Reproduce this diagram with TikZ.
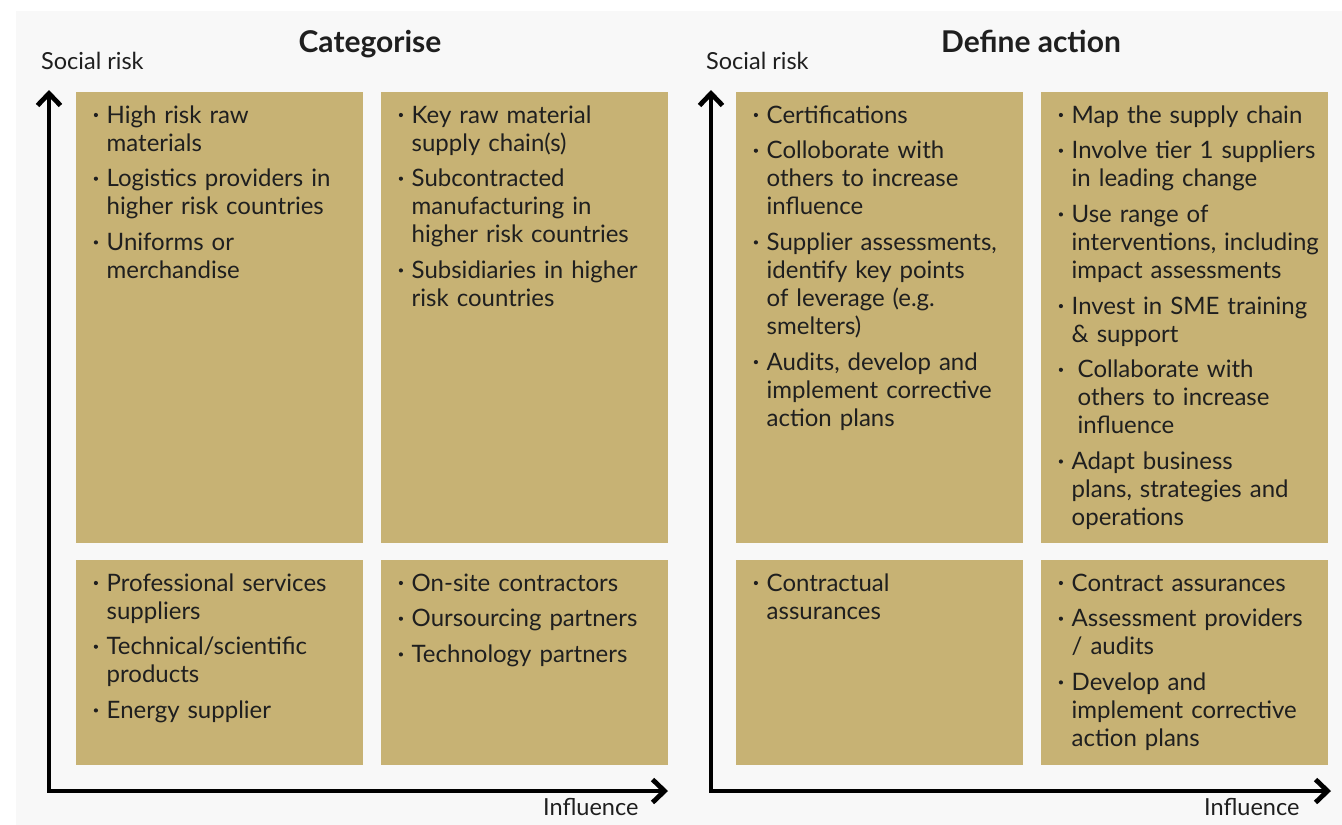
\documentclass[tikz,border=0pt]{standalone}
\usepackage{fontspec}
\setmainfont{Lato}
\usetikzlibrary{arrows.meta}
\definecolor{bgc}{HTML}{F8F8F8}
\definecolor{boxc}{HTML}{C7B274}
\definecolor{txtc}{HTML}{1F1F1F}
\newlength\itmw \setlength\itmw{30.5pt}
\newcommand\qbul{\hspace*{17.6pt}\raisebox{5.9pt}{\tikz\fill[txtc] (0,0) circle (2.1pt);}}
\newcommand\itm[2][0pt]{\noindent\hangindent=\dimexpr\itmw+#1\relax\hangafter=1 \makebox[\dimexpr\itmw+#1\relax][l]{\qbul}#2\par}
\tikzset{
  qbox/.style={fill=boxc, draw=none, inner sep=0pt, minimum width=287pt, anchor=north west},
  qtext/.style={anchor=base west, inner sep=0pt, text width=300pt, align=left, text=txtc,
    font=\fontsize{24}{28}\selectfont, execute at begin node={\setlength\parskip{7.7pt}}},
  axis/.style={line width=4.8pt, line join=miter,
    {Straight Barb[length=12pt,width=23pt]}-{Straight Barb[length=12pt,width=23pt]}},
  ttl/.style={anchor=base, inner sep=0pt, text=txtc, font=\fontsize{30}{34}\selectfont\bfseries},
  axlab/.style={anchor=base west, inner sep=0pt, text=txtc, font=\fontsize{23.5}{27}\selectfont}
}
\begin{document}
\begin{tikzpicture}[x=1pt,y=-1pt]
\useasboundingbox (0,0) rectangle (1342,825);
\fill[bgc] (16,11) rectangle (1342,825);

% titles and axis labels
\node[ttl] (tcat) at (370,52) {Categorise};
\node[ttl] (tdef) at (1031,52) {Define action};
\node[axlab] (srl) at (41,69) {Social risk};
\node[axlab] (srr) at (706,69) {Social risk};
\node[axlab] (infl) at (543,815) {Influence};
\node[axlab] (infr) at (1204,815) {Influence};

% boxes
\node[qbox, minimum height=451pt] (ltl) at (76,92) {};
\node[qbox, minimum height=451pt] (ltr) at (381,92) {};
\node[qbox, minimum height=205pt] (lbl) at (76,560) {};
\node[qbox, minimum height=205pt] (lbr) at (381,560) {};
\node[qbox, minimum height=451pt] (rtl) at (736,92) {};
\node[qbox, minimum height=451pt] (rtr) at (1041,92) {};
\node[qbox, minimum height=205pt] (rbl) at (736,560) {};
\node[qbox, minimum height=205pt] (rbr) at (1041,560) {};

% texts
\node[qtext] (xltl) at ([yshift=-31pt]ltl.north west) {%
\itm{High risk raw\newline materials}
\itm{Logistics providers in\newline higher risk countries}
\itm{Uniforms or\newline merchandise}};
\node[qtext] (xltr) at ([yshift=-31pt]ltr.north west) {%
\itm{Key raw material\newline supply chain(s)}
\itm{Subcontracted\newline manufacturing in\newline higher risk countries}
\itm{Subsidiaries in higher\newline risk countries}};
\node[qtext] (xlbl) at ([yshift=-31pt]lbl.north west) {%
\itm{Professional services\newline suppliers}
\itm{Technical/scientific\newline products}
\itm{Energy supplier}};
\node[qtext] (xlbr) at ([yshift=-31pt]lbr.north west) {%
\itm{On-site contractors}
\itm{Oursourcing partners}
\itm{Technology partners}};
\node[qtext] (xrtl) at ([yshift=-31pt]rtl.north west) {%
\itm{Certifications}
\itm{Colloborate with\newline others to increase\newline influence}
\itm{Supplier assessments,\newline identify key points\newline of leverage (e.g.\newline smelters)}
\itm{Audits, develop and\newline implement corrective\newline action plans}};
\node[qtext] (xrtr) at ([yshift=-31pt]rtr.north west) {%
\itm{Map the supply chain}
\itm{Involve tier 1 suppliers\newline in leading change}
\itm{Use range of\newline interventions, including\newline impact assessments}
\itm{Invest in SME training\newline \& support}
\itm[6pt]{Collaborate with\newline others to increase\newline influence}
\itm{Adapt business\newline plans, strategies and\newline operations}};
\node[qtext] (xrbl) at ([yshift=-31pt]rbl.north west) {%
\itm{Contractual\newline assurances}};
\node[qtext] (xrbr) at ([yshift=-31pt]rbr.north west) {%
\itm{Contract assurances}
\itm{Assessment providers\newline / audits}
\itm{Develop and\newline implement corrective\newline action plans}};

% axes
\coordinate (lo) at (49,791);
\coordinate (lup) at (49,90);
\coordinate (lrt) at (668,791);
\coordinate (ro) at (711,791);
\coordinate (rup) at (711,90);
\coordinate (rrt) at (1331,791);
\draw[axis] (lup) -- (lo) -- (lrt);
\draw[axis] (rup) -- (ro) -- (rrt);
\end{tikzpicture}
\end{document}
